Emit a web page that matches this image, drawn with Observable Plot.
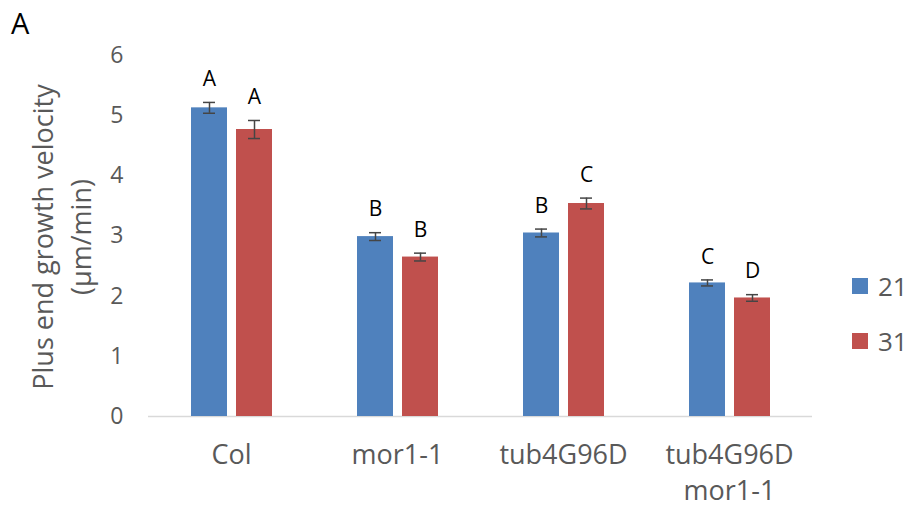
<!DOCTYPE html>
<html>
<head>
<meta charset="utf-8">
<script src="https://cdn.jsdelivr.net/npm/d3@7"></script>
<script src="https://cdn.jsdelivr.net/npm/@observablehq/plot@0.6"></script>
<style>
  body { margin: 0; background: #fff; }
  #chart { position: relative; width: 911px; height: 508px; font-family: "Open Sans", sans-serif; overflow: hidden; }
  #chart svg { position: absolute; left: 0; top: 0; }
  .panel { position: absolute; left: 11px; top: 8px; font-size: 29px; color: #000; line-height: 1; }
  .ylab {
    position: absolute; left: 62px; top: 237px;
    transform: translate(-50%, -50%) rotate(-90deg);
    white-space: nowrap; text-align: center;
    font-size: 27px; line-height: 38px; color: #595959;
  }
  .legend { position: absolute; left: 852px; top: 0; }
  .legend .item { position: absolute; left: 0; display: flex; align-items: center; white-space: nowrap; }
  .legend .swatch { width: 16px; height: 16px; margin-right: 10px; }
  .legend .lab { font-size: 26px; color: #595959; line-height: 1; }
</style>
</head>
<body>
<div id="chart"></div>
<script>
// Genotypes on the x axis and the two temperature series
const genotypes = ["Col", "mor1-1", "tub4G96D", "tub4G96D\nmor1-1"];
const series = ["21", "31"];
const seriesColors = ["#4F81BD", "#C0504D"];

// Mean plus end growth velocity (µm/min) and standard error per genotype
const mean21 = [5.13, 2.99, 3.05, 2.22];
const mean31 = [4.77, 2.65, 3.54, 1.97];
const err21 = [0.09, 0.065, 0.065, 0.05];
const err31 = [0.15, 0.065, 0.09, 0.055];

// Significance group letters
const letters21 = ["A", "B", "B", "C"];
const letters31 = ["A", "B", "C", "D"];

const yTicks = [0, 1, 2, 3, 4, 5, 6];

const rows = [];
genotypes.forEach((g, i) => {
  rows.push({g, s: series[0], v: mean21[i], e: err21[i], letter: letters21[i]});
  rows.push({g, s: series[1], v: mean31[i], e: err31[i], letter: letters31[i]});
});

const errColor = "#454545";

const plot = Plot.plot({
  width: 911,
  height: 508,
  marginLeft: 148,
  marginRight: 99,
  marginTop: 55,
  marginBottom: 92,
  style: {fontFamily: "Open Sans, sans-serif", fontSize: "23px", color: "#595959", background: "transparent"},
  fx: {domain: genotypes, padding: 0, axis: null},
  x: {domain: series, paddingInner: 0.2, paddingOuter: 0.944, axis: null},
  y: {domain: [0, 6], ticks: yTicks, tickFormat: d3.format("d"), tickSize: 0, tickPadding: 25, label: null},
  color: {domain: series, range: seriesColors},
  marks: [
    Plot.ruleY([0], {stroke: "#d9d9d9", strokeWidth: 1.5}),
    Plot.barY(rows, {fx: "g", x: "s", y: "v", fill: "s"}),
    Plot.ruleX(rows, {fx: "g", x: "s", y1: d => d.v - d.e, y2: d => d.v + d.e, stroke: errColor, strokeWidth: 1.5}),
    Plot.tickY(rows, {fx: "g", x: "s", y: d => d.v - d.e, insetLeft: 12, insetRight: 12, stroke: errColor, strokeWidth: 1.5}),
    Plot.tickY(rows, {fx: "g", x: "s", y: d => d.v + d.e, insetLeft: 12, insetRight: 12, stroke: errColor, strokeWidth: 1.5}),
    Plot.text(rows, {fx: "g", x: "s", y: d => d.v + d.e, text: "letter", dy: -23, fontSize: 21, fill: "#000"}),
    Plot.text(genotypes, {fx: d => d, text: d => d, frameAnchor: "bottom", lineAnchor: "top", dy: 22, fontSize: 27, lineHeight: 1.33, fill: "#595959"})
  ]
});

const chart = document.getElementById("chart");
chart.appendChild(plot);

// Panel letter
const panel = document.createElement("div");
panel.className = "panel";
panel.textContent = "A";
chart.appendChild(panel);

// Rotated y-axis title
const ylab = document.createElement("div");
ylab.className = "ylab";
ylab.innerHTML = "Plus end growth velocity<br>(μm/min)";
chart.appendChild(ylab);

// Series legend
const legend = document.createElement("div");
legend.className = "legend";
const legendTops = [273, 328];
series.forEach((s, i) => {
  const item = document.createElement("div");
  item.className = "item";
  item.style.top = legendTops[i] + "px";
  const sw = document.createElement("div");
  sw.className = "swatch";
  sw.style.background = seriesColors[i];
  const lab = document.createElement("div");
  lab.className = "lab";
  lab.textContent = s;
  item.appendChild(sw);
  item.appendChild(lab);
  legend.appendChild(item);
});
chart.appendChild(legend);
</script>
</body>
</html>
